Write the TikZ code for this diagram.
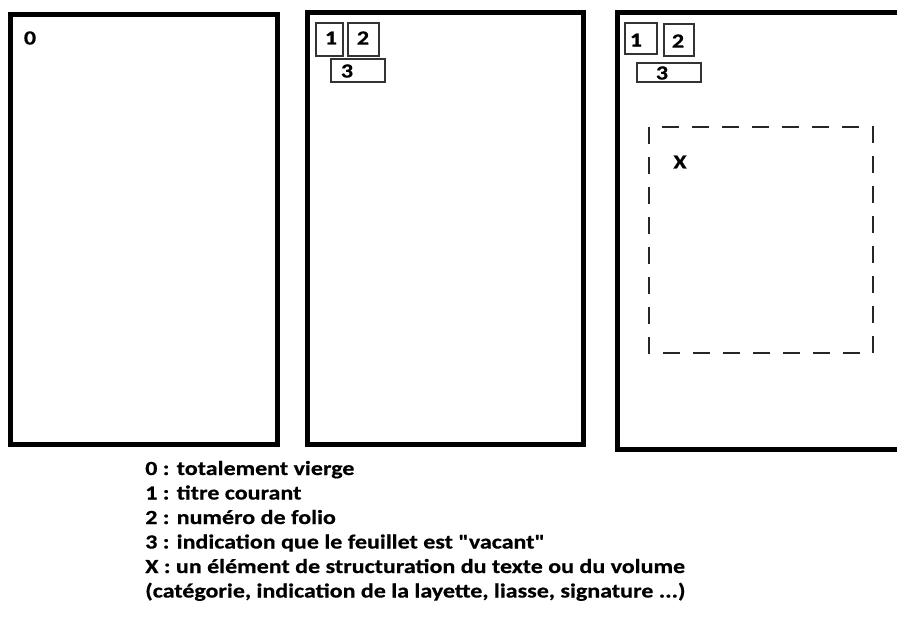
\documentclass[tikz,border=0pt]{standalone}
\usepackage{fontspec}
\setmainfont{Carlito}[Ligatures=TeXOff, FakeStretch=1.2, FakeBold=0.6]
\usepackage{tikz}
\usetikzlibrary{positioning}

\begin{document}
\begin{tikzpicture}[
  x=0.75pt, y=-0.75pt,
  font=\fontsize{15}{18.4}\selectfont\bfseries,
  page/.style={draw, line width=3.75pt},
  slot/.style={draw, line width=1.1pt, black!80},
  zone/.style={draw, line width=1.5pt, black!85, dash pattern=on 13pt off 9.5pt},
  tag/.style={inner sep=0pt},
  legend/.style={anchor=base west, inner sep=0pt}
]
\useasboundingbox (0,0) rectangle (897,626);
\begin{scope}
\clip (0,0) rectangle (897,626);
% the three sheets
\draw[page] (10,14) rectangle (277.5,444.5);
\draw[page] (307.5,12) rectangle (583,444.5);
\draw[page] (617.5,12.5) rectangle (910,449.5);
\end{scope}

% sheet 0
\node[tag] (zero) at (30,38) {0};

% sheet 1
\draw[slot] (316,23) rectangle (343,56);
\draw[slot] (348,23) rectangle (379,56);
\draw[slot] (331,59) rectangle (385,82);
\node[tag] (titreA) at (331,38) {1};
\node[tag] (folioA) at (363,38) {2};
\node[tag] (vacantA) at (347,71) {3};

% sheet 2
\draw[slot] (625,23) rectangle (657,54);
\draw[slot] (664,24) rectangle (694,56);
\draw[slot] (637,63) rectangle (701,82);
\node[tag] (titreB) at (636,40) {1};
\node[tag] (folioB) at (678,41) {2};
\node[tag] (vacantB) at (662,73) {3};
\draw[zone] (649,127) rectangle (873,353);
\node[tag] (elem) at (680,162) {X};

% legend
\node[legend] (l0) at (145,475) {0 : totalement vierge};
\node[legend] (l1) at (145,499.5) {1 : titre courant};
\node[legend] (l2) at (145,524) {2 : numéro de folio};
\node[legend] (l3) at (145,548.5) {3 : indication que le feuillet est "vacant"};
\node[legend] (l4) at (145,573) {X : un élément de structuration du texte ou du volume};
\node[legend] (l5) at (145,597.5) {(catégorie, indication de la layette, liasse, signature ...)};
\end{tikzpicture}
\end{document}
